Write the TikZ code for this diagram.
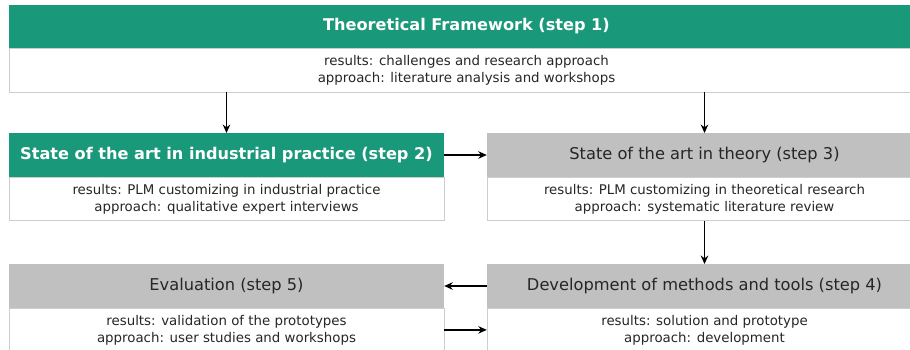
\documentclass[tikz,border=0pt]{standalone}
\usepackage{fontspec}
\setmainfont{DejaVu Sans}
\usetikzlibrary{arrows.meta}
\usetikzlibrary{positioning}
\definecolor{stepgreen}{RGB}{26,153,122}
\definecolor{stepgray}{RGB}{192,192,192}
\definecolor{rimgray}{RGB}{205,205,205}
\tikzset{
 greenhead/.style={fill=stepgreen, text=white, font=\fontsize{16.2}{17}\selectfont\bfseries, minimum height=43.5bp, inner sep=0pt},
 grayhead/.style={fill=stepgray, text=black!85, font=\fontsize{16.3}{17}\selectfont, minimum height=43.5bp, inner sep=0pt},
 stepbody/.style={draw=rimgray, fill=white, text=black!85, font=\fontsize{13.4}{17}\selectfont, align=center, minimum height=43.5bp, inner sep=0pt},
 flow/.style={black, line width=1.4pt, -{Stealth[length=8.5bp, width=7.5bp]}}
}

\begin{document}
\begin{tikzpicture}[x=1bp, y=-1bp]
\clip (0,0) rectangle (910,349);
\fill[white] (0,0) rectangle (910,349);
% step 1
\node[greenhead, minimum width=915bp] (h1) at (466.5,26.5) {Theoretical Framework (step 1)};
\node[stepbody, minimum width=915bp, below=0pt of h1] (b1) {results: challenges and research approach\\approach: literature analysis and workshops};
% step 2 and 3
\node[greenhead, minimum width=435bp] (h2) at (226.5,155) {State of the art in industrial practice (step 2)};
\node[stepbody, minimum width=435bp, below=0pt of h2] (b2) {results: PLM customizing in industrial practice\\approach: qualitative expert interviews};
\node[grayhead, minimum width=435bp] (h3) at (704.5,155) {State of the art in theory (step 3)};
\node[stepbody, minimum width=435bp, below=0pt of h3] (b3) {results: PLM customizing in theoretical research\\approach: systematic literature review};
% step 5 and 4
\node[grayhead, minimum width=435bp] (h5) at (226.5,286) {Evaluation (step 5)};
\node[stepbody, minimum width=435bp, below=0pt of h5] (b5) {results: validation of the prototypes\\approach: user studies and workshops};
\node[grayhead, minimum width=435bp] (h4) at (704.5,286) {Development of methods and tools (step 4)};
\node[stepbody, minimum width=435bp, below=0pt of h4] (b4) {results: solution and prototype\\approach: development};
% arrows
\draw[flow] (b1.south -| h2.north) -- (h2.north);
\draw[flow] (b1.south -| h3.north) -- (h3.north);
\draw[flow] (h2.east) -- (h3.west);
\draw[flow] (b3.south) -- (h4.north);
\draw[flow] (h4.west) -- (h5.east);
\draw[flow] (b5.east) -- (b4.west);
\end{tikzpicture}
\end{document}
